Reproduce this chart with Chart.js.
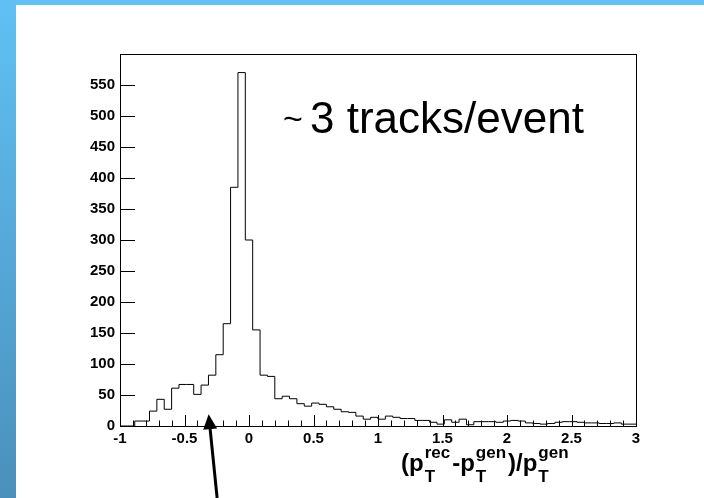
<!DOCTYPE html>
<html lang="en">
<head>
  <meta charset="UTF-8" />
  <title>pT resolution</title>
  <style>
    html, body { margin: 0; padding: 0; background: #fff; }
    body { width: 704px; height: 498px; position: relative; overflow: hidden; }
    .band-top { position: absolute; left: 0; top: 0; width: 704px; height: 5px; background: #60c1f4; }
    .band-left { position: absolute; left: 0; top: 0; width: 16px; height: 498px;
                 background: linear-gradient(to bottom, #60c1f4, #4a90bb); }
    #res { position: absolute; left: 0; top: 0; }
  </style>
</head>
<body>
  <div class="band-top"></div>
  <div class="band-left"></div>
  <canvas id="res" width="704" height="498"></canvas>

  <script src="https://cdn.jsdelivr.net/npm/chart.js"></script>
  <script>
    // histogram range and bin contents (70 bins from -1 to 3)
    const xMin = -1;
    const xMax = 3;
    const counts = [
      0, 0, 0, 8, 8, 24, 43, 27, 61, 67,
      67, 51, 66, 82, 115, 165, 385, 570, 300, 155,
      82, 80, 44, 48, 44, 36, 32, 37, 35, 31,
      27, 23, 22, 16, 11, 14, 11, 16, 14, 12,
      12, 9, 9, 6, 3, 10, 6, 11, 2, 7,
      7, 7, 6, 8, 9, 8, 5, 4, 3, 4,
      6, 7, 7, 6, 5, 5, 4, 4, 5, 3
    ];
    const yMax = 600;
    const yStep = 50;
    const xStep = 0.5;
    const xMinorStep = 0.1;

    const note = '3 tracks/event';
    const arrowTip = { x: -0.313, y: 19 };

    const binWidth = (xMax - xMin) / counts.length;
    const steps = counts.map((c, i) => ({ x: xMin + i * binWidth, y: c }));
    steps.push({ x: xMax, y: counts[counts.length - 1] });

    const tickFont = { family: '"Liberation Sans", Arial, sans-serif', size: 15, weight: 'bold' };

    // frame, inward tick marks, label text, axis title and arrow
    const rootStyle = {
      id: 'rootStyle',
      afterDatasetsDraw(chart) {
        const ctx = chart.ctx;
        const a = chart.chartArea;
        const xs = chart.scales.x, ys = chart.scales.y;
        ctx.save();
        ctx.strokeStyle = '#000';
        ctx.lineWidth = 1;
        ctx.strokeRect(Math.round(a.left) + 0.5, Math.round(a.top) + 0.5,
                       Math.round(a.right - a.left), Math.round(a.bottom - a.top));

        ctx.beginPath();
        for (let v = yStep; v < yMax; v += yStep) {
          const py = Math.round(ys.getPixelForValue(v)) + 0.5;
          ctx.moveTo(a.left, py);
          ctx.lineTo(a.left + 15, py);
        }
        const nMinor = Math.round((xMax - xMin) / xMinorStep);
        for (let i = 1; i < nMinor; i++) {
          const v = xMin + i * xMinorStep;
          const px = Math.round(xs.getPixelForValue(v)) + 0.5;
          const major = (i % Math.round(xStep / xMinorStep)) === 0;
          ctx.moveTo(px, a.bottom);
          ctx.lineTo(px, a.bottom - (major ? 11 : 5.5));
        }
        ctx.stroke();

        // annotation text
        ctx.fillStyle = '#000';
        ctx.textBaseline = 'alphabetic';
        ctx.font = '34px "Liberation Sans", Arial, sans-serif';
        ctx.fillText('~', 283, 130);
        ctx.font = '44px "Liberation Sans", Arial, sans-serif';
        ctx.fillText(note, 310, 133);

        // x axis title: (pT^rec - pT^gen)/pT^gen
        const main = 'bold 24px "Liberation Sans", Arial, sans-serif';
        const small = 'bold 17px "Liberation Sans", Arial, sans-serif';
        const base = 471;
        let cx = 401;
        const put = (txt) => {
          ctx.font = main;
          ctx.fillText(txt, cx, base);
          cx += ctx.measureText(txt).width;
        };
        const script = (sup) => {
          ctx.font = small;
          ctx.fillText(sup, cx + 1, base - 13);
          ctx.fillText('T', cx + 1, base + 11);
          cx += Math.max(ctx.measureText(sup).width, ctx.measureText('T').width) + 3;
        };
        put('(p'); script('rec');
        put('-p'); script('gen');
        put(')/p'); script('gen');

        // arrow
        const tx = xs.getPixelForValue(arrowTip.x);
        const ty = ys.getPixelForValue(arrowTip.y);
        const bx = tx + 8.5, by = chart.height;
        const len = Math.hypot(bx - tx, by - ty);
        const dx = (bx - tx) / len, dy = (by - ty) / len;
        const hx = tx + 15 * dx, hy = ty + 15 * dy;
        ctx.beginPath();
        ctx.moveTo(tx, ty);
        ctx.lineTo(hx - 7 * dy, hy + 7 * dx);
        ctx.lineTo(hx + 7 * dy, hy - 7 * dx);
        ctx.closePath();
        ctx.fill();
        ctx.lineWidth = 3;
        ctx.beginPath();
        ctx.moveTo(hx - 2 * dx, hy - 2 * dy);
        ctx.lineTo(bx, by);
        ctx.stroke();
        ctx.restore();
      }
    };

    new Chart(document.getElementById('res'), {
      type: 'line',
      data: {
        datasets: [{
          data: steps,
          stepped: 'after',
          borderColor: '#000',
          borderWidth: 1,
          pointRadius: 0,
          fill: false
        }]
      },
      options: {
        responsive: false,
        animation: false,
        devicePixelRatio: 1,
        layout: { padding: { left: 0, right: 68, top: 54, bottom: 0 } },
        plugins: { legend: { display: false }, tooltip: { enabled: false } },
        scales: {
          x: {
            type: 'linear',
            min: xMin,
            max: xMax,
            afterFit(s) { s.height = 72; },
            grid: { display: false, drawTicks: false },
            border: { display: false },
            ticks: {
              stepSize: xStep,
              autoSkip: false,
              maxRotation: 0,
              padding: 4,
              color: '#000',
              font: tickFont,
              callback: v => String(Math.round(v * 10) / 10)
            }
          },
          y: {
            min: 0,
            max: yMax,
            afterFit(s) { s.width = 120; },
            grid: { display: false, drawTicks: false },
            border: { display: false },
            ticks: {
              stepSize: yStep,
              padding: 5,
              color: '#000',
              font: tickFont,
              callback: v => (v === yMax ? '' : v)
            }
          }
        }
      },
      plugins: [rootStyle]
    });
  </script>
</body>
</html>
